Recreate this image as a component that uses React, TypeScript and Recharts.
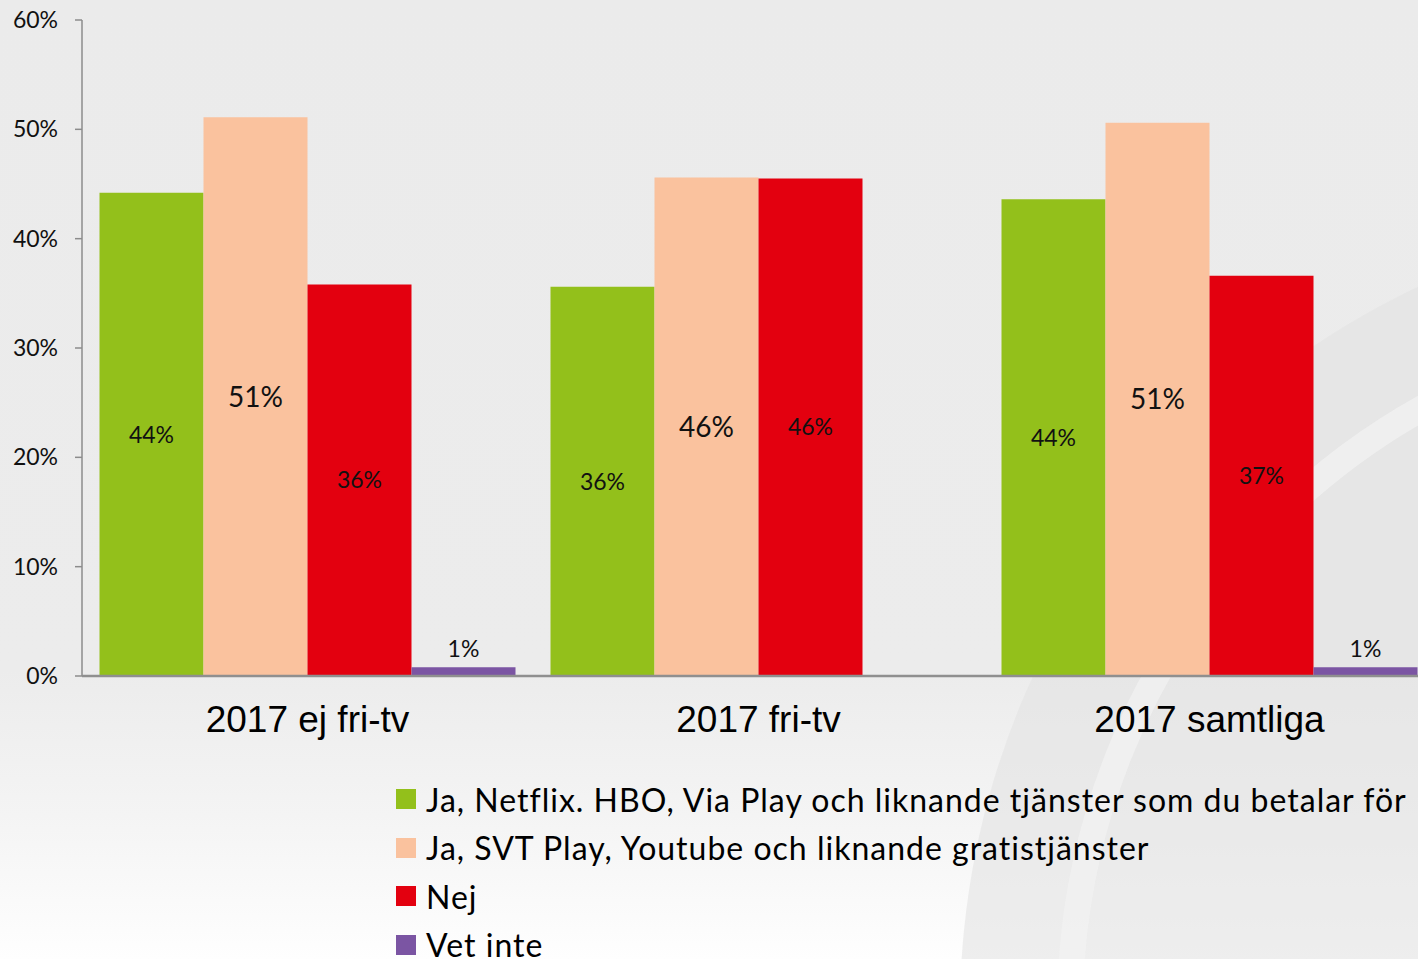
import React from 'react'
import { Bar, BarChart, LabelList, XAxis, YAxis } from 'recharts'

const categories = ['2017 ej fri-tv', '2017 fri-tv', '2017 samtliga']
const paid = [44.2, 35.6, 43.6]
const free = [51.1, 45.6, 50.6]
const no = [35.8, 45.5, 36.6]
const unknown = [0.8, 0, 0.8]
const yTicks = [0, 10, 20, 30, 40, 50, 60]

const seriesNames = [
  'Ja, Netflix. HBO, Via Play och liknande tjänster som du betalar för',
  'Ja, SVT Play, Youtube och liknande gratistjänster',
  'Nej',
  'Vet inte',
]
const seriesColors = ['#93c01b', '#fac29e', '#e3000f', '#7b55a3']

const data = categories.map((name, i) => ({
  name,
  paid: paid[i],
  free: free[i],
  no: no[i],
  unknown: unknown[i],
}))

const FONT = 'Lato, "Open Sans", sans-serif'
const pct = (v: any) => `${Math.round(Number(v))}%`

const App: React.FC = () => {
  return (
    <div
      style={{
        position: 'absolute',
        left: 0,
        top: 0,
        width: 1418,
        height: 959,
        overflow: 'hidden',
        background: 'linear-gradient(180deg, #ebebeb 0%, #ececec 70%, #f4f4f4 85%, #fefefe 100%)',
      }}
    >
      <svg width={1418} height={959} style={{ position: 'absolute', left: 0, top: 0 }}>
        <circle cx={1760} cy={1010} r={800} fill="#e3e3e3" opacity={0.6} />
        <circle cx={1760} cy={1010} r={690} fill="none" stroke="#f1f1f1" strokeWidth={26} opacity={0.8} />
      </svg>
      <div style={{ position: 'absolute', left: 0, top: 0 }}>
        <BarChart
          width={1440}
          height={760}
          data={data}
          margin={{ top: 20, right: 5, left: 0, bottom: 0 }}
          barCategoryGap={17.5}
          barGap={0}
        >
          <YAxis
            width={82}
            domain={[0, 60]}
            ticks={yTicks}
            tickFormatter={(v) => `${v}%`}
            axisLine={{ stroke: '#8c8c8c', strokeWidth: 1.5 }}
            tickLine={{ stroke: '#8c8c8c', strokeWidth: 1.5 }}
            tickSize={7}
            tickMargin={17}
            tick={{ fill: '#111', fontSize: 23, fontFamily: FONT }}
            interval={0}
          />
          <XAxis
            dataKey="name"
            height={84}
            axisLine={{ stroke: '#8f8f8f', strokeWidth: 2.5 }}
            tickLine={false}
            tickSize={0}
            tickMargin={30}
            tick={{ fill: '#000', fontSize: 37, fontFamily: '"Liberation Sans", Arial, sans-serif' }}
          />
          <Bar dataKey="paid" fill={seriesColors[0]} isAnimationActive={false}>
            <LabelList dataKey="paid" position="center" formatter={pct} fill="#111" fontSize={23} fontFamily={FONT} />
          </Bar>
          <Bar dataKey="free" fill={seriesColors[1]} isAnimationActive={false}>
            <LabelList dataKey="free" position="center" formatter={pct} fill="#111" fontSize={28} fontFamily={FONT} />
          </Bar>
          <Bar dataKey="no" fill={seriesColors[2]} isAnimationActive={false}>
            <LabelList dataKey="no" position="center" formatter={pct} fill="#111" fontSize={23} fontFamily={FONT} />
          </Bar>
          <Bar dataKey="unknown" fill={seriesColors[3]} isAnimationActive={false}>
            <LabelList dataKey="unknown" position="top" offset={10} formatter={pct} fill="#111" fontSize={23} fontFamily={FONT} />
          </Bar>
        </BarChart>
      </div>
      <div style={{ position: 'absolute', left: 396, top: 775, fontFamily: FONT, fontSize: 32, letterSpacing: 1, color: '#000' }}>
        {seriesNames.map((n, i) => (
          <div key={n} style={{ display: 'flex', alignItems: 'center', height: 48.5 }}>
            <span style={{ width: 20, height: 20, background: seriesColors[i], marginRight: 10, flex: 'none' }} />
            <span style={{ whiteSpace: 'nowrap' }}>{n}</span>
          </div>
        ))}
      </div>
    </div>
  )
}

export default App
